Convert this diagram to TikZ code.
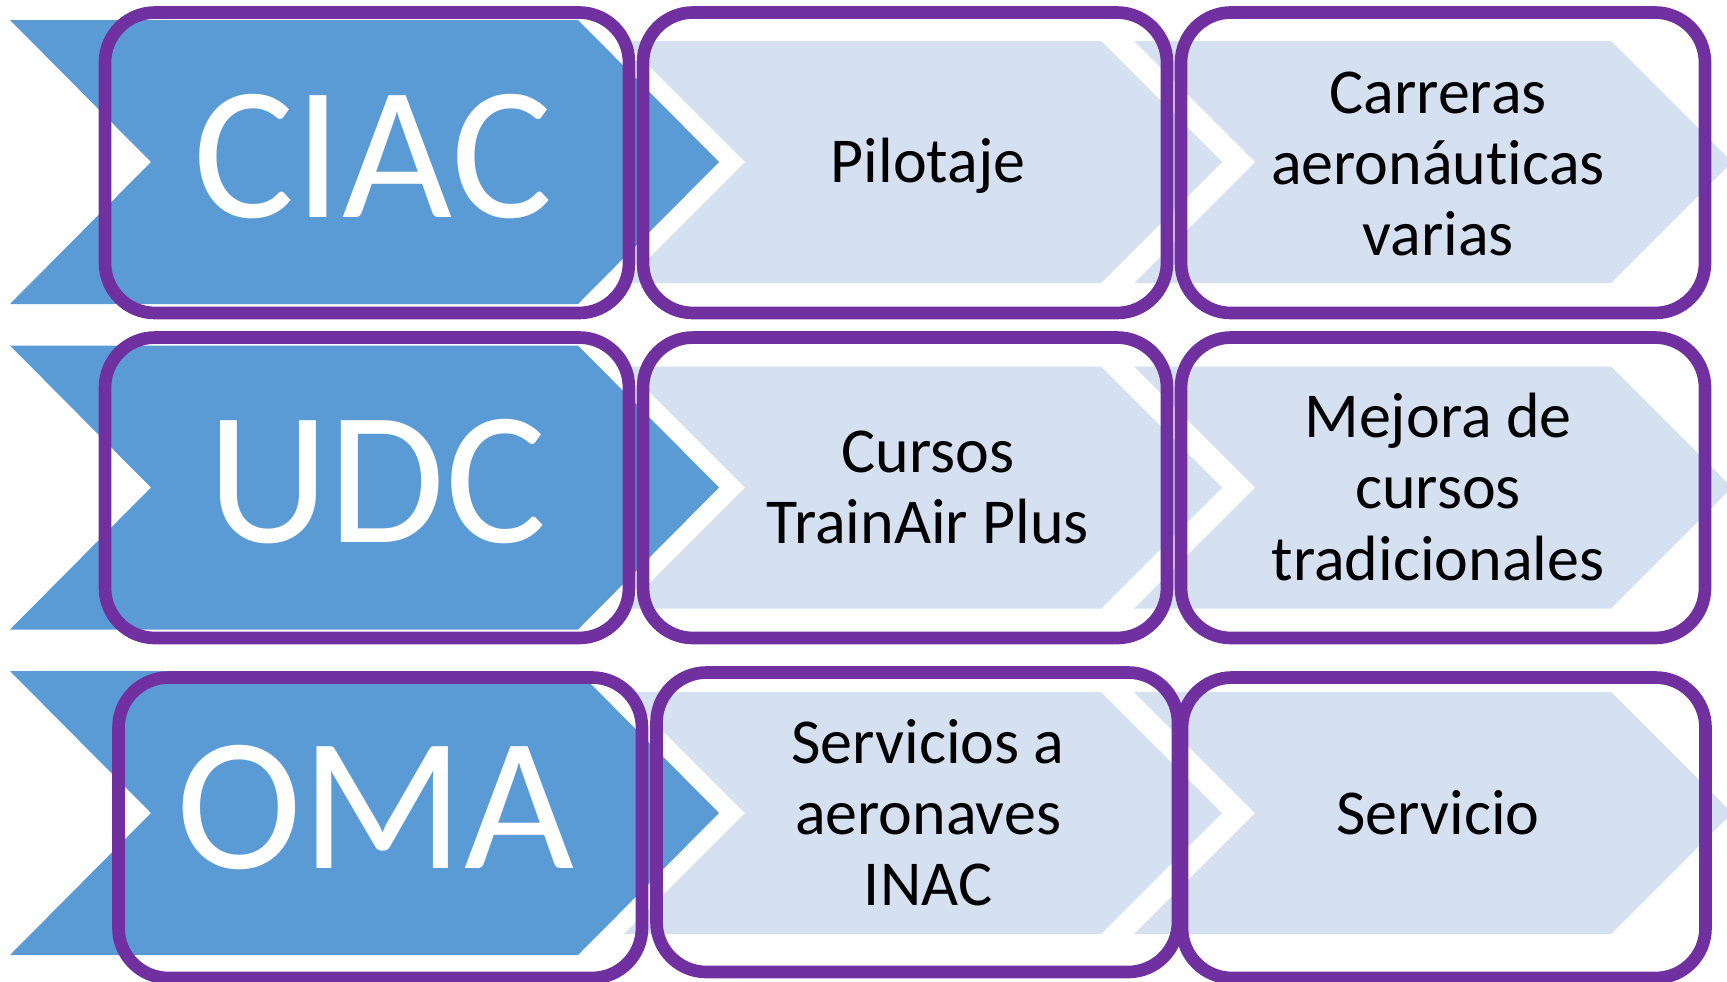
\documentclass[tikz,border=0pt]{standalone}
\usepackage{fontspec}
\setmainfont{Carlito}[Ligatures=NoCommon]
\usepackage{xcolor}
\definecolor{chevblue}{HTML}{5B9BD5}
\definecolor{chevlight}{HTML}{D5E0F1}
\definecolor{boxpurple}{HTML}{7030A0}

\tikzset{
  bigtext/.style={text=white, anchor=base, inner sep=0pt, font=\fontsize{54pt}{60pt}\selectfont},
  smalltext/.style={align=center, inner sep=0pt, font=\fontsize{18.2pt}{20.2pt}\selectfont},
  frame/.style={draw=boxpurple, line width=3.6pt, rounded corners=0.5cm}
}

\begin{document}
\begin{tikzpicture}[x=0.01cm,y=-0.01cm]
        \useasboundingbox (0,0) rectangle (1727,981);

        \foreach \row in {0,1,2} {
          \pgfmathsetmacro{\yc}{162+325.5*\row}
          \fill[chevblue] (10,\yc-142) -- (578,\yc-142) -- (719,\yc) -- (578,\yc+142) -- (10,\yc+142) -- (151,\yc) -- cycle;
          \foreach \x in {624,1134}
            \fill[chevlight] (\x,\yc-121) -- (\x+477,\yc-121) -- (\x+598,\yc) -- (\x+477,\yc+121) -- (\x,\yc+121) -- (\x+121,\yc) -- cycle;
        }

        \foreach \xa/\ya/\xb/\yb in {105/12.5/629/313, 643/12.5/1167/313, 1181/12.5/1705/313,
                                     105/337.5/629/638, 643/337.5/1167/638, 1181/337.5/1705/638,
                                     118.5/677.5/642/978, 656.5/672.5/1178/972, 1182/677.5/1705.5/978}
          \draw[frame] (\xa,\ya) rectangle (\xb,\yb);

        \node[bigtext] (ciac) at (373,217) {CIAC};
        \node[bigtext] (udc) at (377,542.5) {UDC};
        \node[bigtext] (oma) at (375,868) {OMA};

        \node[smalltext] (pilotaje) at (928,166) {Pilotaje};
        \node[smalltext] (carreras) at (1438,164) {Carreras\\aeronáuticas\\varias};
        \node[smalltext] (cursos) at (928,487.5) {Cursos\\TrainAir Plus};
        \node[smalltext] (mejora) at (1438,487) {Mejora de\\cursos\\tradicionales};
        \node[smalltext] (servicios) at (928,813) {Servicios a\\aeronaves\\INAC};
        \node[smalltext] (servicio) at (1438,813) {Servicio};
    \end{tikzpicture}
\end{document}
